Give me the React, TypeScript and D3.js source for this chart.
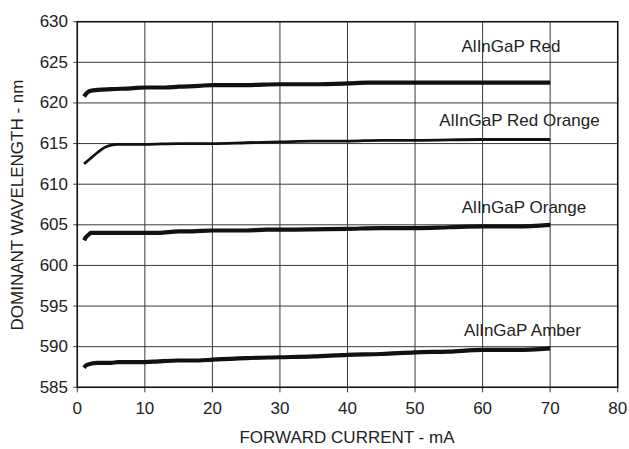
import React from "react";
import * as d3 from "d3";

const xTicks = [0, 10, 20, 30, 40, 50, 60, 70, 80];
const yTicks = [585, 590, 595, 600, 605, 610, 615, 620, 625, 630];

const currentRed = [1, 1.5, 2, 3, 5, 8, 10, 13, 15, 18, 20, 25, 30, 35, 40, 43, 50, 60, 70];
const valueRed = [620.8, 621.3, 621.5, 621.6, 621.7, 621.8, 621.9, 621.9, 622.0, 622.1, 622.2, 622.2, 622.3, 622.3, 622.4, 622.5, 622.5, 622.5, 622.5];

const currentRedOrange = [1, 2, 3, 4, 5, 6, 8, 10, 15, 20, 25, 30, 35, 40, 45, 50, 60, 70];
const valueRedOrange = [612.5, 613.2, 613.9, 614.5, 614.8, 614.9, 614.9, 614.9, 615.0, 615.0, 615.1, 615.2, 615.3, 615.3, 615.4, 615.4, 615.5, 615.5];

const currentOrange = [1, 1.3, 1.7, 2, 3, 5, 10, 12, 15, 17, 20, 25, 28, 30, 40, 45, 50, 55, 60, 65, 70];
const valueOrange = [603.1, 603.5, 603.8, 604.0, 604.0, 604.0, 604.0, 604.0, 604.2, 604.2, 604.3, 604.3, 604.4, 604.4, 604.5, 604.6, 604.6, 604.7, 604.8, 604.8, 605.0];

const currentAmber = [1, 1.3, 2, 3, 5, 6, 10, 12, 15, 18, 20, 25, 30, 35, 40, 45, 50, 55, 60, 65, 70];
const valueAmber = [587.4, 587.7, 587.9, 588.0, 588.0, 588.1, 588.1, 588.2, 588.3, 588.3, 588.4, 588.6, 588.7, 588.8, 589.0, 589.1, 589.3, 589.4, 589.6, 589.6, 589.8];

const seriesNames = ["AlInGaP Red", "AlInGaP Red Orange", "AlInGaP Orange", "AlInGaP Amber"];

const W = 629;
const H = 449;
const left = 77.3;
const right = 617.7;
const top = 21.7;
const bottom = 387.3;

export default function App() {
  const x = d3.scaleLinear().domain([0, 80]).range([left, right]);
  const y = d3.scaleLinear().domain([585, 630]).range([bottom, top]);

  const line = d3
    .line<[number, number]>()
    .x((d) => x(d[0]))
    .y((d) => y(d[1]))
    .curve(d3.curveMonotoneX);

  const series = [
    { xs: currentRed, ys: valueRed, w: 4.2, label: seriesNames[0], lx: 511, ly: 46.7 },
    { xs: currentRedOrange, ys: valueRedOrange, w: 2.8, label: seriesNames[1], lx: 519.5, ly: 120 },
    { xs: currentOrange, ys: valueOrange, w: 4.2, label: seriesNames[2], lx: 524, ly: 207 },
    { xs: currentAmber, ys: valueAmber, w: 4.2, label: seriesNames[3], lx: 522.5, ly: 330 },
  ];

  const font = "'Liberation Sans', Arial, sans-serif";

  return (
    <svg
      width={W}
      height={H}
      style={{ position: "absolute", left: 0, top: 0, background: "#fff" }}
      fontFamily={font}
    >
      <rect x={0} y={0} width={W} height={H} fill="#fff" />
      {xTicks.map((t) => (
        <line key={"gx" + t} x1={x(t)} x2={x(t)} y1={top} y2={bottom + 5} stroke="#3a3a3a" strokeWidth={1} />
      ))}
      {yTicks.map((t) => (
        <line key={"gy" + t} x1={left - 4} x2={right} y1={y(t)} y2={y(t)} stroke="#3a3a3a" strokeWidth={1} />
      ))}
      <rect x={left} y={top} width={right - left} height={bottom - top} fill="none" stroke="#111" strokeWidth={1.5} />
      {series.map((s, i) => (
        <path
          key={"s" + i}
          d={line(s.xs.map((v, j) => [v, s.ys[j]] as [number, number])) || ""}
          fill="none"
          stroke="#111"
          strokeWidth={s.w}
          strokeLinejoin="round"
        />
      ))}
      {series.map((s, i) => (
        <text
          key={"l" + i}
          x={s.lx}
          y={s.ly}
          textAnchor="middle"
          dominantBaseline="central"
          fontSize={17}
          fill="#222"
        >
          {s.label}
        </text>
      ))}
      {yTicks.map((t) => (
        <text key={"ty" + t} x={68} y={y(t)} textAnchor="end" dominantBaseline="central" fontSize={17} fill="#222">
          {t}
        </text>
      ))}
      {xTicks.map((t) => (
        <text key={"tx" + t} x={x(t)} y={408} textAnchor="middle" dominantBaseline="central" fontSize={17} fill="#222">
          {t}
        </text>
      ))}
      <text x={347} y={437} textAnchor="middle" dominantBaseline="central" fontSize={17} fill="#222">
        FORWARD CURRENT - mA
      </text>
      <text
        transform={`translate(17, 205) rotate(-90)`}
        textAnchor="middle"
        dominantBaseline="central"
        fontSize={17}
        fill="#222"
      >
        DOMINANT WAVELENGTH - nm
      </text>
    </svg>
  );
}
